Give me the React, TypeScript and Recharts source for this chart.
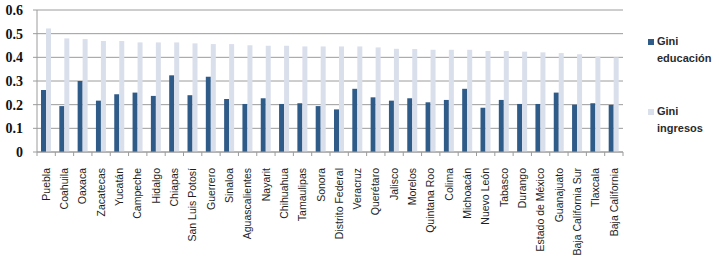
import { BarChart, Bar, XAxis, YAxis, CartesianGrid, Legend } from "recharts";

const estados = [
  "Puebla", "Coahuila", "Oaxaca", "Zacatecas", "Yucatán", "Campeche", "Hidalgo", "Chiapas",
  "San Luis Potosí", "Guerrero", "Sinaloa", "Aguascalientes", "Nayarit", "Chihuahua",
  "Tamaulipas", "Sonora", "Distrito Federal", "Veracruz", "Querétaro", "Jalisco", "Morelos",
  "Quintana Roo", "Colima", "Michoacán", "Nuevo León", "Tabasco", "Durango",
  "Estado de México", "Guanajuato", "Baja California Sur", "Tlaxcala", "Baja California",
];

const giniEducacion = [
  0.262, 0.194, 0.3, 0.217, 0.244, 0.251, 0.237, 0.324, 0.24, 0.318, 0.224, 0.203, 0.227,
  0.203, 0.206, 0.194, 0.18, 0.267, 0.231, 0.217, 0.227, 0.21, 0.22, 0.267, 0.187, 0.22,
  0.203, 0.203, 0.251, 0.2, 0.206, 0.199,
];

const giniIngresos = [
  0.522, 0.48, 0.477, 0.469, 0.469, 0.463, 0.463, 0.463, 0.459, 0.456, 0.456, 0.451, 0.449,
  0.449, 0.446, 0.446, 0.446, 0.446, 0.442, 0.436, 0.435, 0.432, 0.432, 0.432, 0.427, 0.427,
  0.424, 0.421, 0.418, 0.413, 0.403, 0.4,
];

const yTicks = [0, 0.1, 0.2, 0.3, 0.4, 0.5, 0.6];

const data = estados.map((estado, i) => ({
  estado,
  educacion: giniEducacion[i],
  ingresos: giniIngresos[i],
}));

const AXIS_GRAY = "#9c9c9c";

// tick marks sit between categories, so draw them from the band offset
function EstadoTick(props: any) {
  const { x, y, payload, index, visibleTicksCount } = props;
  const half = payload?.offset ?? 9.15;
  const last = index === visibleTicksCount - 1;
  return (
    <g>
      <line x1={x - half} x2={x - half} y1={y - 4} y2={y} stroke={AXIS_GRAY} />
      {last && <line x1={x + half} x2={x + half} y1={y - 4} y2={y} stroke={AXIS_GRAY} />}
      <text
        x={x}
        y={y + 12}
        transform={`rotate(-90 ${x} ${y + 12})`}
        textAnchor="end"
        dy="0.35em"
        fontSize={10.5}
        fontFamily="'Liberation Sans', Arial, sans-serif"
        fill="#1e1e1e"
      >
        {payload.value}
      </text>
    </g>
  );
}

function LegendBox(props: any) {
  const items = props.payload || [];
  return (
    <div style={{ position: "relative", width: 80, height: 130 }}>
      {items.map((item: any, i: number) => {
        const words = String(item.value).split(" ");
        return (
          <div key={item.value} style={{ position: "absolute", left: 0, top: i * 70 }}>
            <div
              style={{
                position: "absolute",
                left: 0,
                top: 6,
                width: 6,
                height: 6,
                background: item.color,
              }}
            />
            <div
              style={{
                position: "absolute",
                left: 9,
                top: 0,
                fontFamily: "'Liberation Sans', Arial, sans-serif",
                fontWeight: "bold",
                fontSize: 11,
                lineHeight: "17px",
                color: "#2b2b2b",
                whiteSpace: "nowrap",
              }}
            >
              {words[0]}
              <br />
              {words.slice(1).join(" ")}
            </div>
          </div>
        );
      })}
    </div>
  );
}

export default function App() {
  return (
    <div style={{ position: "absolute", left: 0, top: 0 }}>
      <BarChart
        width={719}
        height={269}
        data={data}
        margin={{ top: 10, right: 96, bottom: 0, left: 0 }}
        barGap={0}
        barSize={5}
      >
        <CartesianGrid vertical={false} stroke={AXIS_GRAY} />
        <XAxis
          dataKey="estado"
          interval={0}
          height={117}
          tickLine={false}
          tickSize={4}
          tickMargin={0}
          axisLine={{ stroke: AXIS_GRAY }}
          tick={<EstadoTick />}
        />
        <YAxis
          domain={[0, 0.6]}
          ticks={yTicks}
          width={37}
          tickSize={4}
          tickMargin={10}
          axisLine={{ stroke: AXIS_GRAY }}
          tickLine={{ stroke: AXIS_GRAY }}
          tickFormatter={(v: number) => String(v)}
          tick={{
            fill: "#111",
            fontSize: 14,
            fontWeight: "bold",
            fontFamily: "'Liberation Serif', 'Times New Roman', serif",
          }}
        />
        <Legend
          layout="vertical"
          align="center"
          verticalAlign="middle"
          content={<LegendBox />}
          wrapperStyle={{ left: 648, top: 33, width: 80 }}
        />
        <Bar dataKey="educacion" name="Gini educación" fill="#2f5b88" isAnimationActive={false} />
        <Bar dataKey="ingresos" name="Gini ingresos" fill="#dadfec" isAnimationActive={false} />
      </BarChart>
    </div>
  );
}
